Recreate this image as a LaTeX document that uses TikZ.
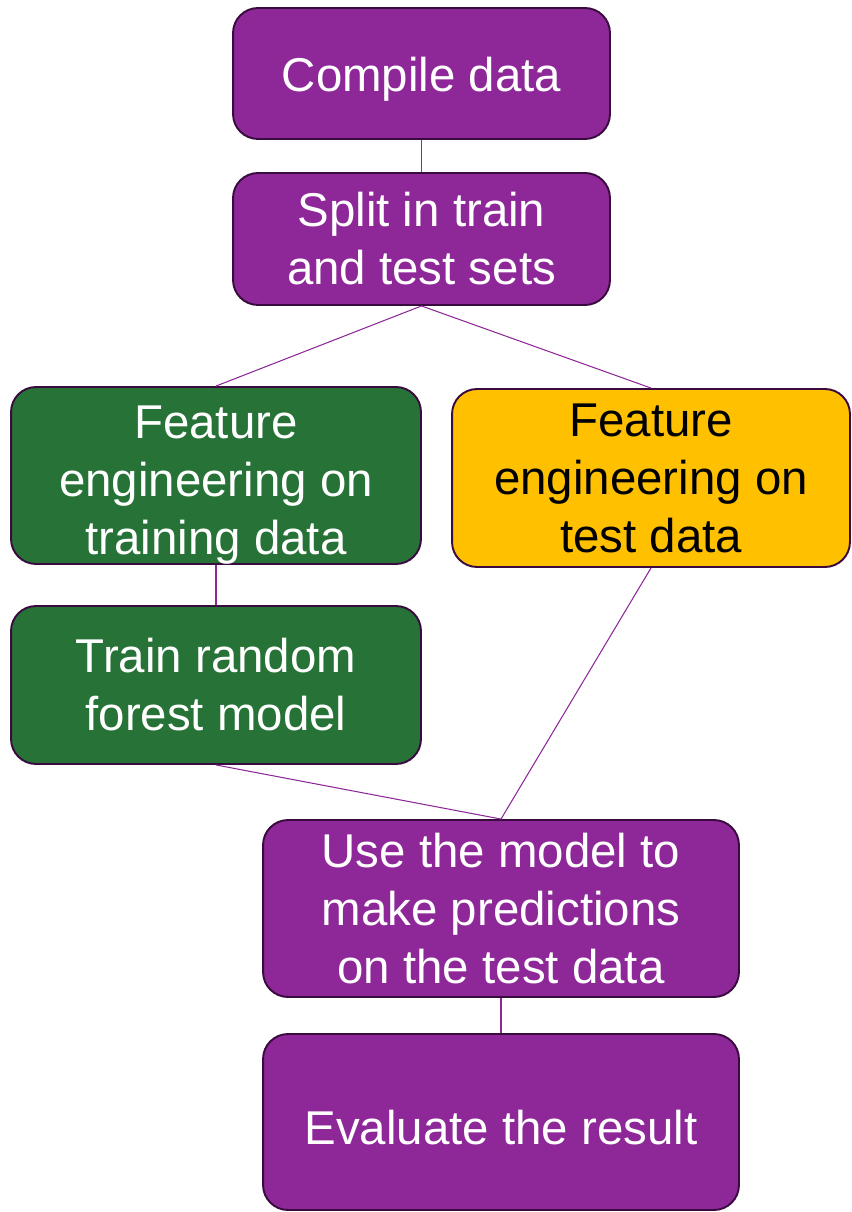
\documentclass[tikz,border=0pt]{standalone}
\usepackage{fontspec}
\setmainfont{Liberation Sans}
\usepackage{tikz}
\usetikzlibrary{positioning}

\definecolor{stepPurple}{HTML}{8E2899}
\definecolor{stepGreen}{HTML}{277337}
\definecolor{stepYellow}{HTML}{FFC000}
\definecolor{edgeDark}{HTML}{3A0B3F}

\begin{document}
\begin{tikzpicture}[x=0.02cm, y=-0.02cm,
        every node/.style={align=center, font=\fontsize{27}{33}\selectfont},
        box/.style={draw=edgeDark, line width=1.1pt, rounded corners=0.5cm,
                    inner sep=2pt, execute at begin node={\rule{0pt}{26pt}}},
        purplebox/.style={box, fill=stepPurple, text=white},
        greenbox/.style={box, fill=stepGreen, text=white},
        link/.style={draw=stepPurple, line width=0.6pt}
    ]
        \useasboundingbox (0,0) rectangle (851,1212);
        \node[purplebox, minimum width=7.54cm, minimum height=2.62cm] (compile) at (421.5,73.5) {Compile data};
        \node[purplebox, minimum width=7.54cm, minimum height=2.64cm] (split) at (421.5,239) {Split in train\\and test sets};
        \node[greenbox, text depth=0pt, minimum width=8.2cm, minimum height=3.54cm] (feattrain) at (216,475.5) {\rule{0pt}{24pt}Feature\\engineering on\\training data};
        \node[box, fill=stepYellow, minimum width=7.96cm, minimum height=3.56cm] (feattest) at (651,478) {Feature\\engineering on\\test data};
        \node[greenbox, minimum width=8.2cm, minimum height=3.16cm] (train) at (216,685) {Train random\\forest model};
        \node[purplebox, minimum width=9.52cm, minimum height=3.54cm] (predict) at (501,908.5) {Use the model to\\make predictions\\on the test data};
        \node[purplebox, minimum width=9.52cm, minimum height=3.52cm] (evaluate) at (501,1122) {Evaluate the result};
        \draw[link] (compile) -- (split);
        \draw[link] (split.south) -- (feattrain.north);
        \draw[link] (split.south) -- (feattest.north);
        \draw[link] (feattrain) -- (train);
        \draw[link] (train.south) -- (predict.north);
        \draw[link] (feattest.south) -- (predict.north);
        \draw[link] (predict) -- (evaluate);
    \end{tikzpicture}
\end{document}
